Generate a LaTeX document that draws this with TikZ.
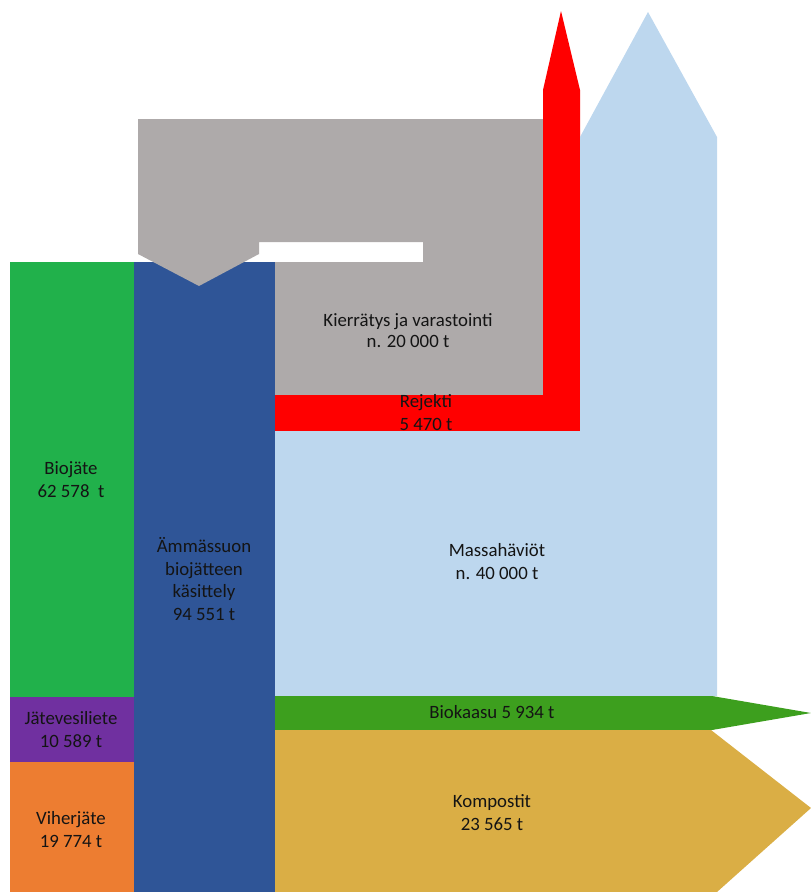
\documentclass[tikz,border=0pt]{standalone}
\usepackage{fontspec}
\setmainfont{Carlito}
\definecolor{bioGreen}{RGB}{33,177,75}
\definecolor{sludgePurple}{RGB}{112,48,160}
\definecolor{greenOrange}{RGB}{237,125,49}
\definecolor{plantBlue}{RGB}{47,85,151}
\definecolor{storeGray}{RGB}{174,170,170}
\definecolor{rejectRed}{RGB}{255,0,0}
\definecolor{lossBlue}{RGB}{189,215,238}
\definecolor{gasGreen}{RGB}{61,159,30}
\definecolor{compostGold}{RGB}{218,174,69}
\definecolor{labelInk}{RGB}{20,20,20}
% labels are placed by the baseline of their last line
\tikzset{
  flowlabel/.style={align=center, anchor=base, inner sep=0pt, text=labelInk,
    font=\fontsize{18.8}{22.5}\selectfont}
}
\begin{document}
\begin{tikzpicture}[x=1pt,y=-1pt]
\useasboundingbox (0,0) rectangle (811,892);
% input streams
\fill[bioGreen] (10,262) rectangle (134,697);
\fill[sludgePurple] (10,697) rectangle (134,762);
\fill[greenOrange] (10,762) rectangle (134,892);
% treatment plant column
\fill[plantBlue] (134,262) rectangle (275,892);
% recycling and storage loop
\fill[storeGray] (138,119) -- (543,119) -- (543,395) -- (275,395) -- (275,262)
  -- (423,262) -- (423,242) -- (259,242) -- (259,254) -- (199,286) -- (138,254) -- cycle;
% reject stream
\fill[rejectRed] (275,395) -- (543,395) -- (543,90) -- (561,11) -- (580,90)
  -- (580,431) -- (275,431) -- cycle;
% mass losses
\fill[lossBlue] (275,431) -- (580,431) -- (580,137) -- (648,12) -- (717,137)
  -- (717,696) -- (275,696) -- cycle;
% biogas
\fill[gasGreen] (275,696) -- (712,696) -- (811,713) -- (712,730) -- (275,730) -- cycle;
% compost
\fill[compostGold] (275,730) -- (711,730) -- (811,808) -- (717,892) -- (275,892) -- cycle;

% labels
\node[flowlabel] (bio) at (71,497) {Biojäte\\62 578~~t};
\node[flowlabel] (sludge) at (71,747) {Jätevesiliete\\10 589 t};
\node[flowlabel] (garden) at (71,847) {Viherjäte\\19 774 t};
\node[flowlabel] (plant) at (204,620) {Ämmässuon\\biojätteen\\käsittely\\94 551 t};
\node[flowlabel, font=\fontsize{18.8}{20.5}\selectfont] (store) at (408,347) {Kierrätys ja varastointi\\n. 20 000 t};
\node[flowlabel] (reject) at (426,430) {Rejekti\\5 470 t};
\node[flowlabel] (loss) at (497,579) {Massahäviöt\\n. 40 000 t};
\node[flowlabel] (gas) at (492,718) {Biokaasu 5 934 t};
\node[flowlabel] (compost) at (492,830) {Kompostit\\23 565 t};
\end{tikzpicture}
\end{document}
